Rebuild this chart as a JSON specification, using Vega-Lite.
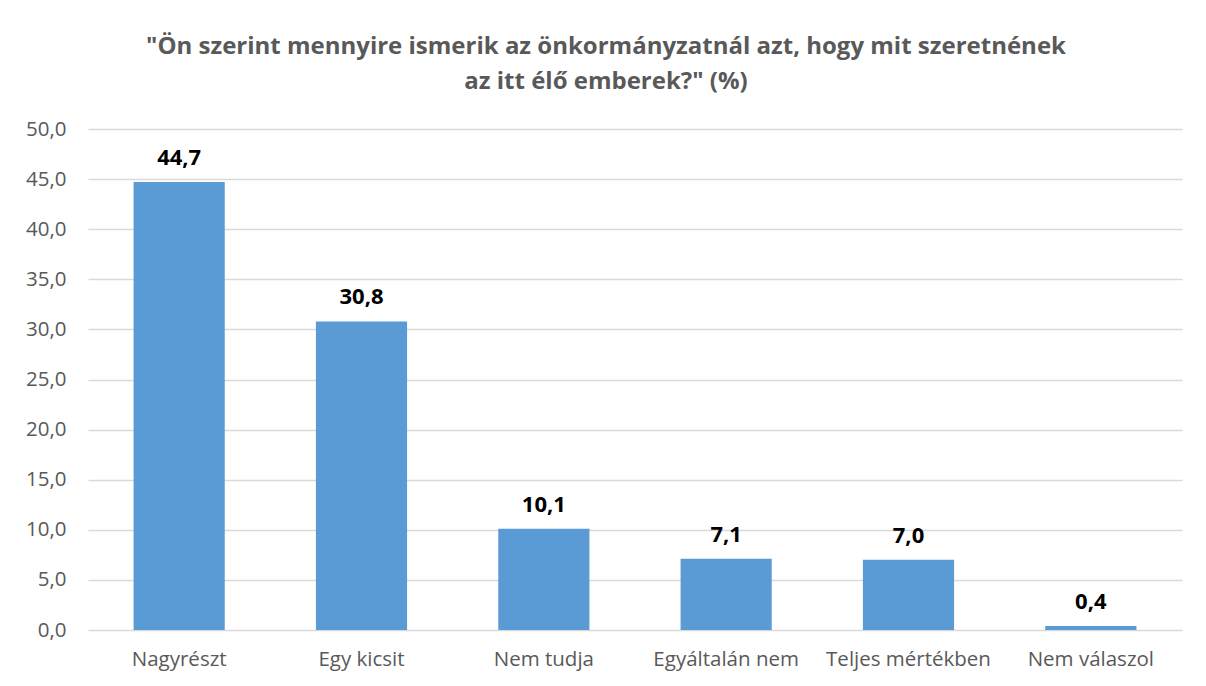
{
  "$schema": "https://vega.github.io/schema/vega-lite/v6.json",
  "width": 1094,
  "height": 501,
  "autosize": {"type": "none"},
  "padding": {"left": 88, "top": 129, "right": 24, "bottom": 56},
  "background": "white",
  "config": {
    "locale": {"number": {"decimal": ",", "thousands": " ", "grouping": [3], "currency": ["", ""]}},
    "font": "Open Sans",
    "view": {"stroke": null}
  },
  "title": {
    "text": ["\"Ön szerint mennyire ismerik az önkormányzatnál azt, hogy mit szeretnének", "az itt élő emberek?\" (%)"],
    "font": "Open Sans",
    "fontSize": 24,
    "fontWeight": "bold",
    "color": "#595959",
    "anchor": "middle",
    "dx": -29,
    "offset": 25,
    "lineHeight": 35
  },
  "data": {
    "values": [
      {"kategoria": "Nagyrészt", "ertek": 44.7},
      {"kategoria": "Egy kicsit", "ertek": 30.8},
      {"kategoria": "Nem tudja", "ertek": 10.1},
      {"kategoria": "Egyáltalán nem", "ertek": 7.1},
      {"kategoria": "Teljes mértékben", "ertek": 7.0},
      {"kategoria": "Nem válaszol", "ertek": 0.4}
    ]
  },
  "encoding": {
    "x": {
      "field": "kategoria",
      "type": "nominal",
      "sort": null,
      "scale": {"paddingInner": 0.5, "paddingOuter": 0.25},
      "axis": {
        "title": null,
        "labelAngle": 0,
        "labelFontSize": 20.5,
        "labelColor": "#595959",
        "labelPadding": 19,
        "ticks": false,
        "domain": false
      }
    },
    "y": {
      "field": "ertek",
      "type": "quantitative",
      "scale": {"domain": [0, 50]},
      "axis": {
        "title": null,
        "values": [0, 5, 10, 15, 20, 25, 30, 35, 40, 45, 50],
        "format": ".1f",
        "labelFontSize": 20.5,
        "labelColor": "#595959",
        "labelPadding": 22,
        "ticks": false,
        "domain": false,
        "gridColor": "#d9d9d9",
        "gridWidth": 1.3
      }
    }
  },
  "layer": [
    {"mark": {"type": "bar", "color": "#5b9bd5"}},
    {
      "mark": {"type": "text", "baseline": "bottom", "dy": -12, "fontSize": 22, "fontWeight": "bold", "color": "#000000"},
      "encoding": {"text": {"field": "ertek", "type": "quantitative", "format": ".1f"}}
    }
  ]
}
